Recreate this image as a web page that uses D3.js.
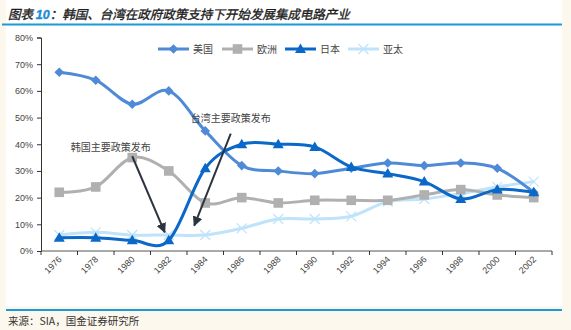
<!DOCTYPE html>
<html>
<head>
<meta charset="utf-8">
<script src="https://cdn.jsdelivr.net/npm/d3@7/dist/d3.min.js"></script>
<style>
  html, body { margin: 0; padding: 0; background: #fdf8ee; }
  svg { display: block; }
</style>
</head>
<body>
<svg id="chart" width="571" height="330"></svg>
<script>
// Shares of global IC production by region, 1976–2002
const years = ["1976","1978","1980","1982","1984","1986","1988","1990","1992","1994","1996","1998","2000","2002"];
const seriesNames = ["美国", "欧洲", "日本", "亚太"];
const usa    = [67, 64, 55, 60, 45, 32, 30, 29, 31, 33, 32, 33, 31, 22];
const europe = [22, 24, 35, 30, 18, 20, 18, 19, 19, 19, 21, 23, 21, 20];
const japan  = [5, 5, 4, 4, 31, 40, 40, 39, 31.5, 29, 26, 19.5, 23, 22];
const apac   = [6, 7, 6, 6, 6, 8.5, 12, 12, 13, 18.5, 19.5, 21.5, 24, 26];
const yTicks = [0, 10, 20, 30, 40, 50, 60, 70, 80];

const title = "韩国、台湾在政府政策支持下开始发展集成电路产业";
const source = "来源：SIA，国金证券研究所";
// policy notes: label anchored near a category, arrow from one point to another
const notes = [
  { text: "韩国主要政策发布", at: "1978", dx: 15, v: 39, from: ["1980", 0, 35.5], to: ["1982", -4, 7] },
  { text: "台湾主要政策发布", at: "1986", dx: -11, v: 50, from: ["1986", -11, 44], to: ["1984", -11, 9.5] }
];

const series = [
  { name: seriesNames[0], values: usa,    color: "#4f8ad6", marker: "diamond" },
  { name: seriesNames[1], values: europe, color: "#b0b0b0", marker: "square" },
  { name: seriesNames[2], values: japan,  color: "#0a68c8", marker: "triangle" },
  { name: seriesNames[3], values: apac,   color: "#bfe3fa", marker: "cross" }
];

const svg = d3.select("#chart");
const font = "'Liberation Sans', Arial, sans-serif";
const cjk = "'Noto Sans CJK SC', sans-serif";

// white panel
svg.append("rect").attr("x", 6).attr("y", 0).attr("width", 556).attr("height", 306).attr("fill", "#ffffff");

// heading
const t = svg.append("text").attr("x", 8).attr("y", 19)
  .attr("font-size", 12.5).attr("font-style", "italic")
  .attr("fill", "#1c1c1c").attr("stroke", "#1c1c1c").attr("stroke-width", 0.35)
  .attr("font-family", cjk);
t.append("tspan").text("图表 ");
t.append("tspan").attr("fill", "#1a8ad4").attr("stroke", "#1a8ad4").attr("font-weight", "bold")
  .attr("font-family", font).text("10");
t.append("tspan").text("：" + title);
svg.append("rect").attr("x", 2).attr("y", 23.5).attr("width", 560).attr("height", 2).attr("fill", "#1a9ad6");

// footer
svg.append("rect").attr("x", 6).attr("y", 309).attr("width", 556).attr("height", 2).attr("fill", "#1a9ad6");
svg.append("text").attr("x", 8).attr("y", 325).attr("font-size", 10.5)
  .attr("fill", "#333").attr("font-family", cjk).text(source);

// scales
const x = d3.scaleBand().domain(years).range([41, 552]).padding(0);
const cx = d => x(d) + x.bandwidth() / 2;
const y = d3.scaleLinear().domain([0, 80]).range([251, 37.5]);

// y axis
const yAxis = svg.append("g").attr("transform", "translate(41,0)")
  .call(d3.axisLeft(y).tickValues(yTicks).tickFormat(d => d + "%").tickSize(4).tickPadding(4));
yAxis.select(".domain").attr("stroke", "#333");
yAxis.selectAll(".tick line").attr("stroke", "#333");
yAxis.selectAll("text").attr("font-size", 9).attr("fill", "#444").attr("font-family", font);

// x axis: ticks at category boundaries
const xg = svg.append("g");
xg.append("line").attr("x1", 41).attr("x2", 552).attr("y1", 251).attr("y2", 251).attr("stroke", "#555");
const bounds = years.map(d => x(d)).concat([x(years[years.length - 1]) + x.bandwidth()]);
xg.selectAll("line.tk").data(bounds).join("line").attr("class", "tk")
  .attr("x1", d => d).attr("x2", d => d).attr("y1", 251).attr("y2", 255).attr("stroke", "#333");
xg.selectAll("text").data(years).join("text")
  .attr("transform", d => `translate(${cx(d) + 3},${260}) rotate(-45)`)
  .attr("text-anchor", "end").attr("font-size", 9).attr("fill", "#444").attr("font-family", font)
  .text(d => d);

// markers
function drawMarker(g, type, color, px, py) {
  if (type === "diamond") {
    g.append("path").attr("d", `M${px},${py - 4.8}L${px + 4.8},${py}L${px},${py + 4.8}L${px - 4.8},${py}Z`).attr("fill", color);
  } else if (type === "square") {
    g.append("rect").attr("x", px - 4.8).attr("y", py - 4.8).attr("width", 9.6).attr("height", 9.6).attr("fill", color);
  } else if (type === "triangle") {
    g.append("path").attr("d", `M${px},${py - 5.5}L${px + 5.5},${py + 4}L${px - 5.5},${py + 4}Z`).attr("fill", color);
  } else {
    g.append("path").attr("d", `M${px - 5},${py - 5}L${px + 5},${py + 5}M${px + 5},${py - 5}L${px - 5},${py + 5}`)
      .attr("stroke", color).attr("stroke-width", 1.2).attr("fill", "none");
  }
}

const line = d3.line().x((d, i) => cx(years[i])).y(d => y(d)).curve(d3.curveCardinal.tension(0));

// draw order: Asia-Pacific underneath
const order = [3, 1, 0, 2];
order.forEach(k => {
  const s = series[k];
  const g = svg.append("g");
  g.append("path").attr("d", line(s.values)).attr("fill", "none")
    .attr("stroke", s.color).attr("stroke-width", 3).attr("stroke-linejoin", "round");
  s.values.forEach((v, i) => drawMarker(g, s.marker, s.color, cx(years[i]), y(v)));
});

// legend
const legendX = [158, 222, 285, 348];
series.forEach((s, i) => {
  const g = svg.append("g");
  const lx = legendX[i], ly = 49;
  g.append("line").attr("x1", lx).attr("x2", lx + 31).attr("y1", ly).attr("y2", ly)
    .attr("stroke", s.color).attr("stroke-width", 3);
  drawMarker(g, s.marker, s.color, lx + 15.5, ly);
  g.append("text").attr("x", lx + 35).attr("y", ly + 3.5).attr("font-size", 10)
    .attr("fill", "#444").attr("font-family", cjk).text(s.name);
});

// annotations
const defs = svg.append("defs");
defs.append("marker").attr("id", "arrowhead").attr("viewBox", "0 0 10 10")
  .attr("refX", 9).attr("refY", 5).attr("markerWidth", 5).attr("markerHeight", 5)
  .attr("orient", "auto")
  .append("path").attr("d", "M0,0L10,5L0,10Z").attr("fill", "#2c3440");

notes.forEach(n => {
  svg.append("text").attr("x", cx(n.at) + n.dx).attr("y", y(n.v) + 4)
    .attr("text-anchor", "middle").attr("font-size", 10).attr("fill", "#444")
    .attr("font-family", cjk).text(n.text);
  svg.append("line")
    .attr("x1", cx(n.from[0]) + n.from[1]).attr("y1", y(n.from[2]))
    .attr("x2", cx(n.to[0]) + n.to[1]).attr("y2", y(n.to[2]))
    .attr("stroke", "#2c3440").attr("stroke-width", 2).attr("marker-end", "url(#arrowhead)");
});
</script>
</body>
</html>
